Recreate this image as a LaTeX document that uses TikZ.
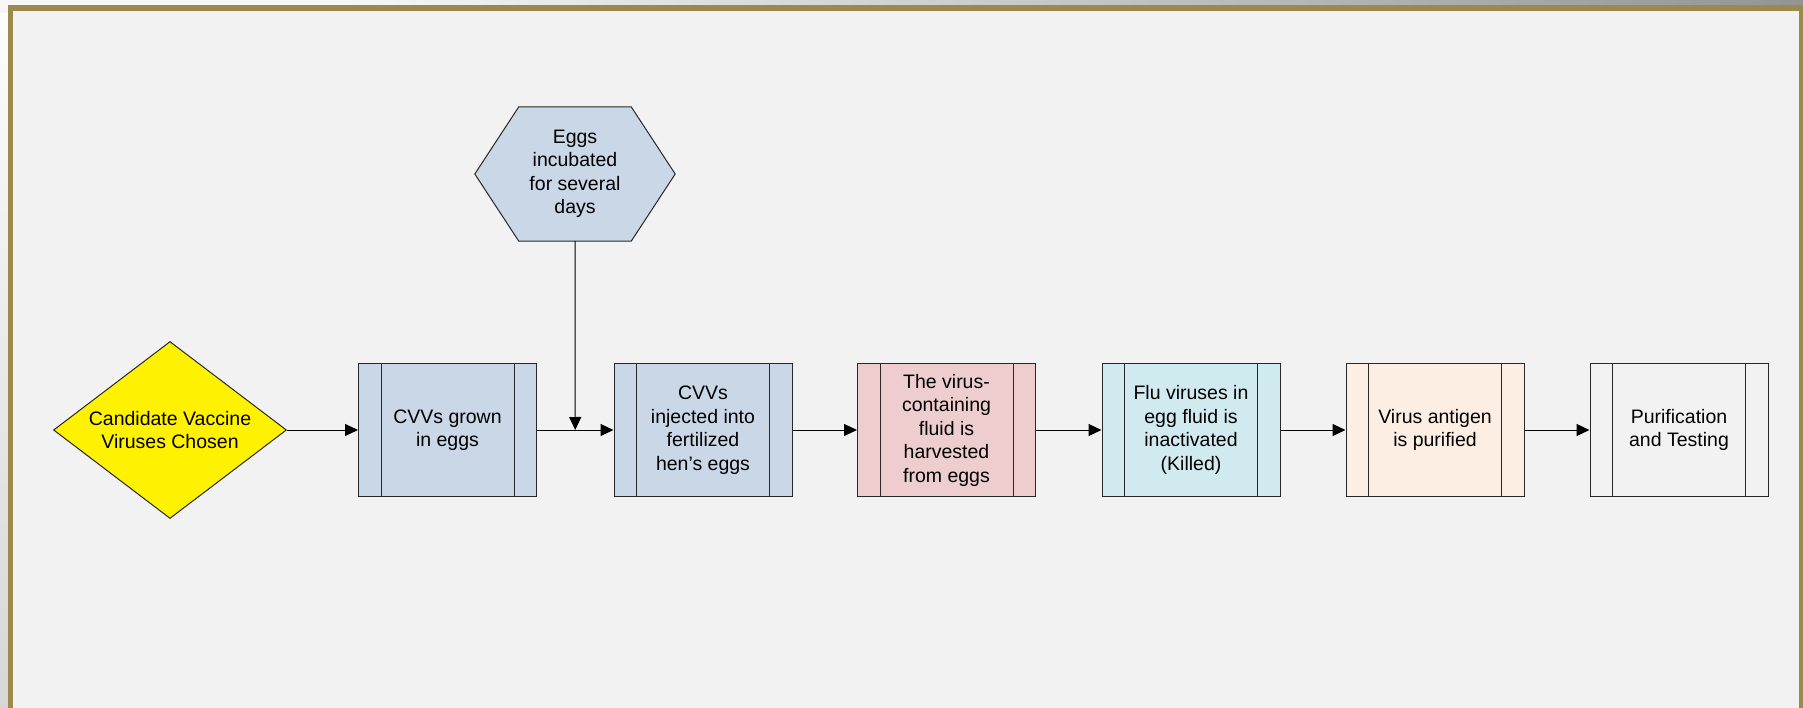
\documentclass[tikz,border=0pt]{standalone}
\usepackage{fontspec}
\setmainfont{Liberation Sans}
\usetikzlibrary{shapes.geometric,arrows.meta,backgrounds,calc}
\definecolor{bgin}{RGB}{242,242,242}
\definecolor{framec}{RGB}{154,138,78}
\definecolor{blueb}{RGB}{201,215,230}
\definecolor{pinkb}{RGB}{237,205,205}
\definecolor{cyanb}{RGB}{209,234,240}
\definecolor{peachb}{RGB}{252,238,227}
\definecolor{edgec}{RGB}{40,40,40}
\tikzset{
  x=1pt, y=-1pt,
  txt/.style={font=\fontsize{19.5}{23.5}\selectfont, align=center, text=black},
  procbox/.style={txt, draw=edgec, line width=1pt, minimum width=178pt, minimum height=133.5pt, inner sep=0pt,
    path picture={
      \draw[edgec, line width=1pt] ([xshift=22.5pt]path picture bounding box.north west) -- ([xshift=22.5pt]path picture bounding box.south west);
      \draw[edgec, line width=1pt] ([xshift=-22.5pt]path picture bounding box.north east) -- ([xshift=-22.5pt]path picture bounding box.south east);
    }},
  decision/.style={txt, diamond, draw=edgec, line width=1pt, fill=yellow, aspect=1.316, minimum width=233pt, minimum height=177pt, inner sep=0pt},
  flow/.style={draw=black, line width=1pt, -{Triangle[length=13pt,width=12pt]}},
}
\begin{document}
\begin{tikzpicture}
\useasboundingbox (0,0) rectangle (1803,708);
\clip (0,0) rectangle (1803,708);

% nodes
\node[decision] (d) at (170,430) {Candidate Vaccine\\Viruses Chosen};
\node[procbox, fill=blueb] (b1) at (447.5,430) {CVVs grown\\in eggs};
\node[procbox, fill=blueb] (b2) at (703,430) {CVVs\\injected into\\fertilized\\hen’s eggs};
\node[procbox, fill=pinkb] (b3) at (946.5,430) {The virus-\\containing\\fluid is\\harvested\\from eggs};
\node[procbox, fill=cyanb] (b4) at (1191,430) {Flu viruses in\\egg fluid is\\inactivated\\(Killed)};
\node[procbox, fill=peachb] (b5) at (1435,430) {Virus antigen\\is purified};
\node[procbox, fill=bgin] (b6) at (1679,430) {Purification\\and Testing};
\node[txt, minimum width=200pt, minimum height=134pt, inner sep=0pt] (hex) at (575,174) {Eggs\\incubated\\for several\\days};
\begin{pgfonlayer}{background}
% outside area
\fill[white!96!black] (0,0) rectangle (1803,708);
\fill[white!97!black] (0,0) rectangle (340,8);
\shade[left color=white!97!black, right color=white!58!black] (340,0) rectangle (1803,8);
\shade[top color=white!99!black, bottom color=white!84!black] (0,14) rectangle (8,708);
% frame
\fill[bgin] (10.5,8) rectangle (1802,720);
\draw[framec, line width=5.5pt] (10.5,8) rectangle (1802,720);
% hexagon
\draw[edgec, line width=1pt, fill=blueb] (hex.west) -- ([xshift=44pt]hex.north west) -- ([xshift=-44pt]hex.north east) -- (hex.east) -- ([xshift=-44pt]hex.south east) -- ([xshift=44pt]hex.south west) -- cycle;
\end{pgfonlayer}
\coordinate (m) at ($(b1.east)!0.5!(b2.west)$);

% connectors
\draw[flow] (d.east) -- (b1.west);
\draw[flow] (b1.east) -- (b2.west);
\draw[flow] (hex.south) -- (m);
\draw[flow] (b2.east) -- (b3.west);
\draw[flow] (b3.east) -- (b4.west);
\draw[flow] (b4.east) -- (b5.west);
\draw[flow] (b5.east) -- (b6.west);
\end{tikzpicture}
\end{document}
